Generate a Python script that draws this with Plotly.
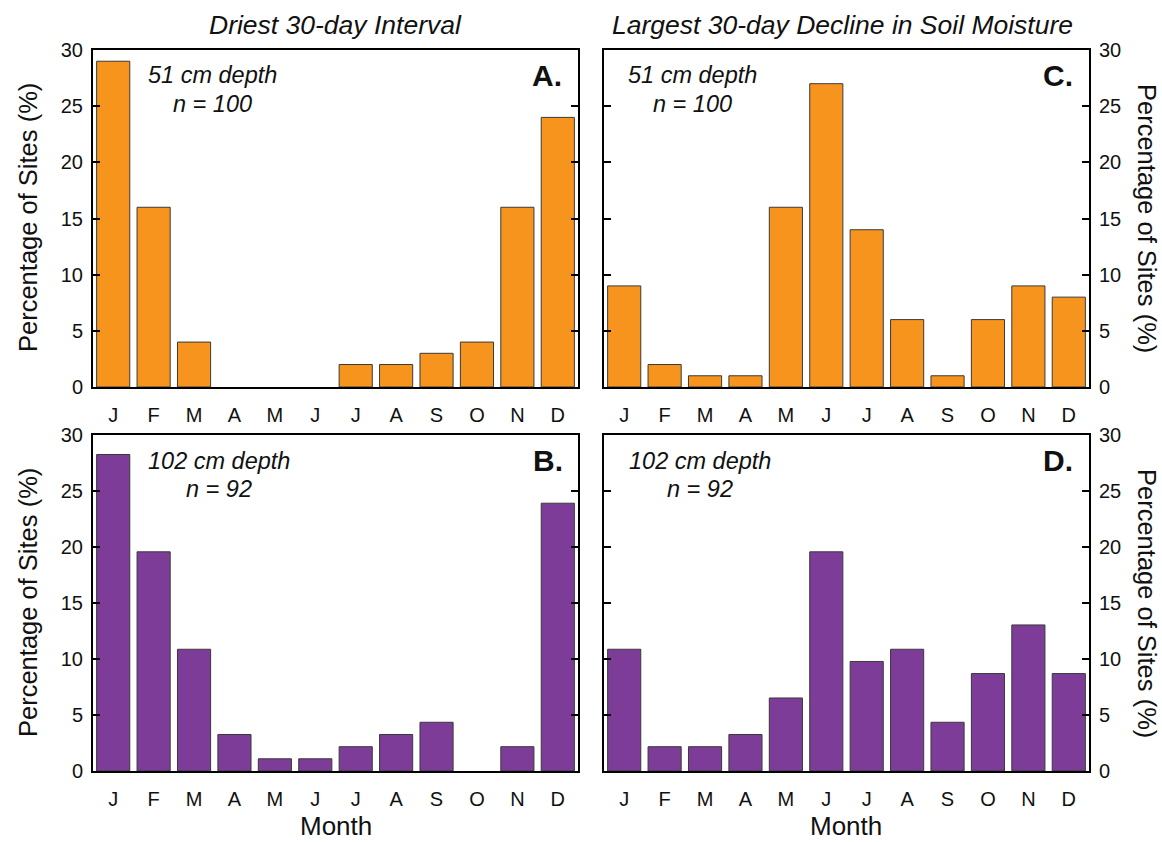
import plotly.graph_objects as go

months = ["J", "F", "M", "A", "M", "J", "J", "A", "S", "O", "N", "D"]
month_idx = list(range(12))

# Percentage of sites per month
driest_51 = [29, 16, 4, 0, 0, 0, 2, 2, 3, 4, 16, 24]
decline_51 = [9, 2, 1, 1, 16, 27, 14, 6, 1, 6, 9, 8]
driest_102 = [28.26, 19.57, 10.87, 3.26, 1.09, 1.09, 2.17, 3.26, 4.35, 0, 2.17, 23.91]
decline_102 = [10.87, 2.17, 2.17, 3.26, 6.52, 19.57, 9.78, 10.87, 4.35, 8.70, 13.04, 8.70]

y_ticks = [0, 5, 10, 15, 20, 25, 30]

ORANGE = "#F7941E"
PURPLE = "#7D3C98"
FONT = "Liberation Sans, Arial, sans-serif"

W, H = 1162, 842


def fx(px):
    return px / W


def fy(py):
    return (H - py) / H


def px_x(a, b):
    return [fx(a), fx(b)]


def px_y(top, bottom):
    return [fy(bottom), fy(top)]


fig = go.Figure()

panels = [
    # data, color, xaxis, yaxis, x-domain, y-domain, side
    (driest_51, ORANGE, "x", "y", px_x(93, 578), px_y(50, 387), "left"),
    (decline_51, ORANGE, "x2", "y2", px_x(604, 1089), px_y(50, 387), "right"),
    (driest_102, PURPLE, "x3", "y3", px_x(93, 578), px_y(435, 771), "left"),
    (decline_102, PURPLE, "x4", "y4", px_x(604, 1089), px_y(435, 771), "right"),
]

layout = dict(
    width=W, height=H,
    margin=dict(l=0, r=0, t=0, b=0, autoexpand=False),
    paper_bgcolor="white", plot_bgcolor="white",
    showlegend=False,
    font=dict(family=FONT, color="#111"),
)

for i, (vals, color, xa, ya, xd, yd, side) in enumerate(panels):
    # empty months get no outline so nothing is drawn on the baseline
    outline = [0 if v == 0 else 1 for v in vals]
    fig.add_trace(go.Bar(
        x=month_idx, y=vals, width=0.82,
        marker=dict(color=color, line=dict(color="#3a3a3a", width=outline)),
        xaxis=xa, yaxis=ya,
    ))
    xkey = "xaxis" if i == 0 else f"xaxis{i + 1}"
    ykey = "yaxis" if i == 0 else f"yaxis{i + 1}"
    layout[xkey] = dict(
        domain=xd, anchor=ya, range=[-0.5, 11.5], automargin=False,
        tickmode="array", tickvals=month_idx, ticktext=months,
        ticks="", ticklabelstandoff=9,
        showline=True, linecolor="black", linewidth=2, mirror=True,
        showgrid=False, zeroline=False,
        tickfont=dict(size=20, family=FONT, color="#111"),
    )
    layout[ykey] = dict(
        domain=yd, anchor=xa, range=[0, 30], side=side, automargin=False,
        tickmode="array", tickvals=y_ticks, ticklabelstandoff=4,
        ticks="inside", ticklen=7, tickwidth=2, tickcolor="black",
        showline=True, linecolor="black", linewidth=2, mirror="ticks",
        showgrid=False, zeroline=False,
        tickfont=dict(size=20, family=FONT, color="#111"),
    )

fig.update_layout(**layout)

ann = []
# Column titles
ann.append(dict(x=fx(335.5), y=fy(25), text="<i>Driest 30-day Interval</i>",
                font=dict(size=26.5)))
ann.append(dict(x=fx(842), y=fy(25),
                text="<i>Largest 30-day Decline in Soil Moisture</i>",
                font=dict(size=26.5)))
# Panel letters
for txt, xp, yp in [("A.", 547, 76), ("C.", 1058, 76), ("B.", 548, 461), ("D.", 1058, 461)]:
    ann.append(dict(x=fx(xp), y=fy(yp), text=f"<b>{txt}</b>", font=dict(size=30)))
# Depth / sample size
for txt, xp, yp in [
    ("51 cm depth", 213, 75), ("n = 100", 213, 104),
    ("51 cm depth", 692, 75), ("n = 100", 692, 104),
    ("102 cm depth", 219, 461), ("n = 92", 219, 489),
    ("102 cm depth", 700, 461), ("n = 92", 700, 489),
]:
    ann.append(dict(x=fx(xp), y=fy(yp), text=f"<i>{txt}</i>", font=dict(size=23.5)))
# Axis titles
for yp in (218, 603):
    ann.append(dict(x=fx(28), y=fy(yp), text="Percentage of Sites (%)",
                    textangle=-90, font=dict(size=25.5)))
    ann.append(dict(x=fx(1147), y=fy(yp), text="Percentage of Sites (%)",
                    textangle=90, font=dict(size=25.5)))
for xp in (335.5, 846):
    ann.append(dict(x=fx(xp), y=fy(826), text="Month", font=dict(size=26)))

for a in ann:
    a.update(xref="paper", yref="paper", showarrow=False, xanchor="center",
             yanchor="middle", borderpad=0)
    a["font"].update(family=FONT, color="#111")
fig.update_layout(annotations=ann)

fig.write_html("out.html")
